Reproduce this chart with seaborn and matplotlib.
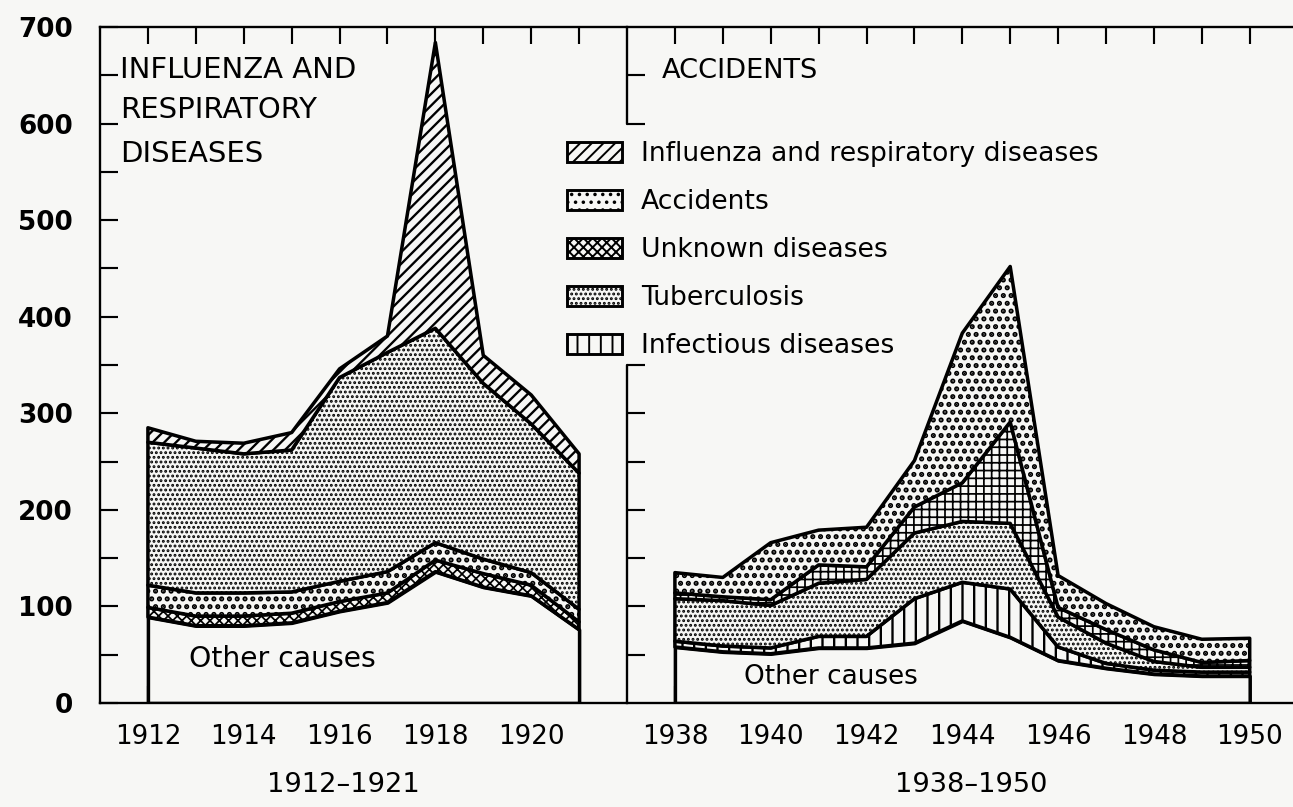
import numpy as np
import matplotlib
matplotlib.use("Agg")
import matplotlib.pyplot as plt
import seaborn as sns
from matplotlib.patches import Patch
from matplotlib.ticker import FixedLocator, MultipleLocator, NullFormatter

# ---------------- data (deaths per 100,000) ----------------
years_a = [1912, 1913, 1914, 1915, 1916, 1917, 1918, 1919, 1920, 1921]
other_a = [89, 80, 80, 83, 95, 104, 136, 120, 111, 76]
unknown_a = [10, 10, 10, 10, 10, 10, 12, 14, 11, 8]
accidents_a = [23, 24, 24, 22, 21, 22, 18, 15, 13, 13]
tb_a = [148, 150, 144, 147, 211, 227, 222, 182, 154, 141]
flu_a = [15, 7, 11, 18, 9, 17, 296, 29, 30, 20]

years_b = [1938, 1939, 1940, 1941, 1942, 1943, 1944, 1945, 1946, 1947, 1948, 1949, 1950]
other_b = [58, 53, 51, 57, 57, 62, 85, 68, 44, 36, 30, 28, 28]
infectious_b = [6, 6, 6, 12, 12, 46, 40, 50, 14, 5, 4, 4, 4]
tb_b = [44, 47, 44, 55, 59, 68, 63, 68, 31, 21, 9, 5, 5]
unknown_b = [6, 4, 6, 19, 13, 27, 40, 105, 10, 14, 12, 5, 7]
accidents_b = [21, 20, 59, 36, 41, 48, 155, 161, 33, 27, 24, 24, 23]

legend_labels = ["Influenza and respiratory diseases", "Accidents",
                 "Unknown diseases", "Tuberculosis", "Infectious diseases"]
period_labels = ["1912\u20131921", "1938\u20131950"]
y_ticks = [0, 100, 200, 300, 400, 500, 600, 700]

# ---------------- style ----------------
W, H, DPI = 1293, 807, 140
bg = "#f7f7f5"
sns.set_theme(style="ticks", rc={
    "axes.facecolor": bg, "figure.facecolor": bg, "axes.edgecolor": "black",
    "xtick.color": "black", "ytick.color": "black", "text.color": "black",
    "axes.labelcolor": "black", "axes.linewidth": 1.2, "hatch.color": "black",
})
plt.rcParams["font.family"] = ["DejaVu Sans"]

HATCH = {"none": None, "flu": "////", "acc": "...", "unk": "xxxxx", "unk_b": "+++",
         "tb": ".....", "inf": "||"}
HLW = {"none": 1.0, "flu": 1.2, "acc": 1.8, "unk": 0.9, "unk_b": 0.9, "tb": 1.0, "inf": 1.2}
EDGE_LW = 1.8


def fx(x):
    return x / W


def fy(y):
    return 1 - y / H


fig = plt.figure(figsize=(W / DPI, H / DPI), dpi=DPI)
ax1 = fig.add_axes([fx(100), fy(703), 527 / W, 676 / H])
ax2 = fig.add_axes([fx(627), fy(703), 670.6 / W, 676 / H])


def stack(ax, x, series, keys):
    colls = ax.stackplot(x, *series, colors=[bg] * len(series),
                         edgecolor="black", linewidth=EDGE_LW)
    for c, k in zip(colls, keys):
        c.set_hatch(HATCH[k])
        if hasattr(c, "set_hatch_linewidth"):
            c.set_hatch_linewidth(HLW[k])
    return colls


stack(ax1, years_a, [other_a, unknown_a, accidents_a, tb_a, flu_a],
      ["none", "unk", "acc", "tb", "flu"])
stack(ax2, years_b, [other_b, infectious_b, tb_b, unknown_b, accidents_b],
      ["none", "inf", "tb", "unk_b", "acc"])

# ---------------- axes: left panel ----------------
ax1.set_xlim(1911, 1922)
ax1.set_ylim(0, 700)
ax1.xaxis.set_major_locator(FixedLocator(years_a[0::2]))
ax1.xaxis.set_minor_locator(FixedLocator(years_a[1::2]))
ax1.set_yticks(y_ticks)
ax1.yaxis.set_minor_locator(MultipleLocator(50))
ax1.tick_params(axis="x", which="both", direction="in", top=True, bottom=True,
                length=8.5, width=1.1, labelsize=13.5, pad=11)
ax1.tick_params(axis="y", which="both", direction="in", left=True, right=False,
                length=9, width=1.1, labelsize=13.5, pad=14)
for lab in ax1.get_yticklabels():
    lab.set_fontweight("bold")
ax1.spines["right"].set_visible(False)

# ---------------- axes: right panel ----------------
ax2.set_xlim(1937, 1951)
ax2.set_ylim(0, 700)
ax2.xaxis.set_major_locator(FixedLocator(years_b[0::2]))
ax2.xaxis.set_minor_locator(FixedLocator(years_b[1::2]))
# left spine of the right panel is interrupted where the legend sits
ax2.yaxis.set_major_locator(FixedLocator([50, 100, 150, 200, 250, 300, 350, 600, 650]))
ax2.tick_params(axis="x", which="both", direction="in", top=True, bottom=True,
                length=8.5, width=1.1, labelsize=13.5, pad=11)
ax2.tick_params(axis="y", which="both", direction="in", left=True, right=False,
                labelleft=False, length=9, width=1.1)
ax2.spines["left"].set_visible(False)
ax2.spines["right"].set_visible(False)
ax2.axvline(1937, ymin=0, ymax=350 / 700, color="black", lw=1.2, clip_on=False)
ax2.axvline(1937, ymin=600 / 700, ymax=1, color="black", lw=1.2, clip_on=False)

ax2r = ax2.twinx()
ax2r.set_ylim(0, 700)
ax2r.yaxis.set_major_locator(MultipleLocator(100))
ax2r.yaxis.set_minor_locator(MultipleLocator(50))
ax2r.yaxis.set_major_formatter(NullFormatter())
ax2r.tick_params(axis="y", which="major", direction="in", length=10, width=1.1)
ax2r.tick_params(axis="y", which="minor", direction="in", length=5, width=1.1)
sns.despine(ax=ax2r, left=True, top=True, bottom=True, right=False)

# ---------------- texts ----------------
tk = dict(fontsize=15, va="center", ha="left")
fig.text(fx(120), fy(70), "INFLUENZA AND", **tk)
fig.text(fx(120), fy(110), "RESPIRATORY", **tk)
fig.text(fx(120), fy(154), "DISEASES", **tk)
fig.text(fx(662), fy(71), "ACCIDENTS", fontsize=14, va="center", ha="left")
fig.text(fx(189), fy(659), "Other causes", fontsize=14.5, va="center", ha="left")
fig.text(fx(744), fy(677), "Other causes", fontsize=13.5, va="center", ha="left")
fig.text(fx(343), fy(785), period_labels[0], fontsize=14, va="center", ha="center")
fig.text(fx(971), fy(785), period_labels[1], fontsize=14, va="center", ha="center")

# ---------------- legend ----------------
leg_keys = ["flu", "acc", "unk", "tb", "inf"]
handles = []
for k, lab in zip(leg_keys, legend_labels):
    p = Patch(facecolor=bg, edgecolor="black", hatch=HATCH[k], linewidth=1.5, label=lab)
    if hasattr(p, "set_hatch_linewidth"):
        p.set_hatch_linewidth(HLW[k])
    handles.append(p)
leg = fig.legend(handles=handles, loc="upper left", bbox_to_anchor=(fx(567), fy(141)),
                 frameon=False, borderpad=0, borderaxespad=0,
                 handlelength=2.06, handleheight=0.76, handletextpad=0.72,
                 labelspacing=0.83, fontsize=13.7)

fig.savefig("out.png", dpi=DPI, facecolor=bg)
